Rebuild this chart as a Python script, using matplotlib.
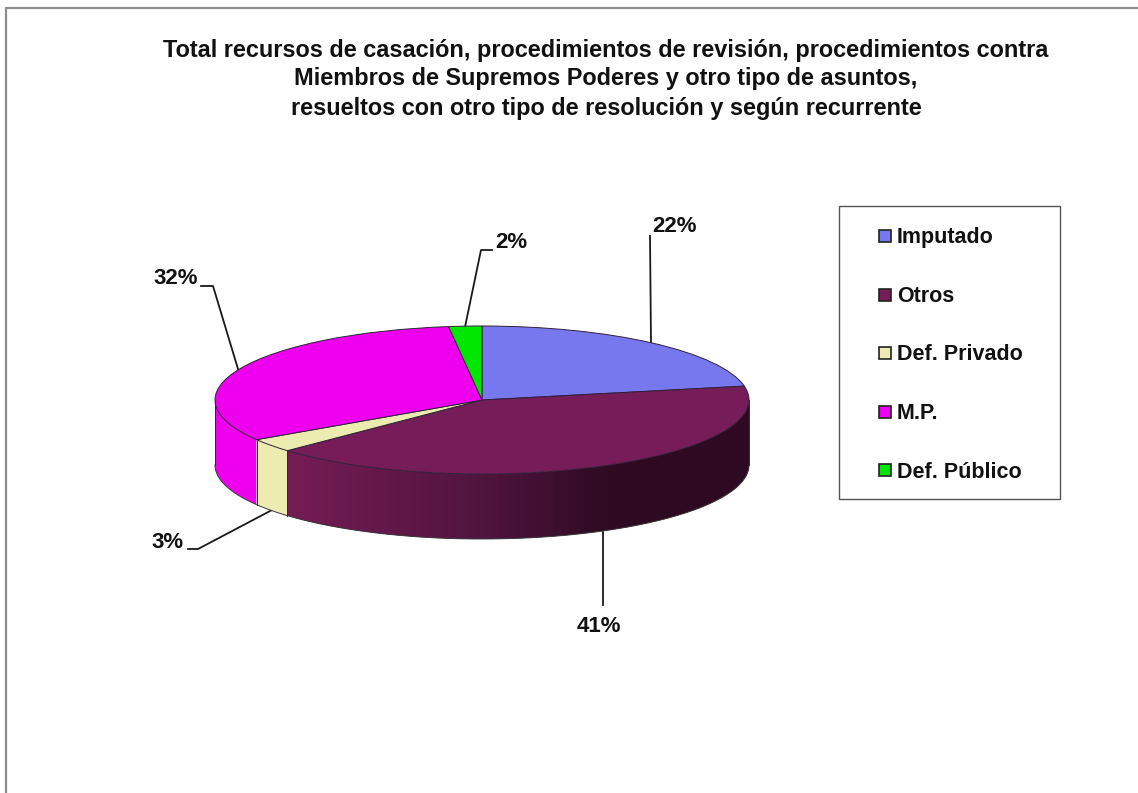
import numpy as np
import matplotlib
matplotlib.use('Agg')
import matplotlib.pyplot as plt
from matplotlib.patches import Rectangle

plt.rcParams['font.family'] = ['Liberation Sans', 'DejaVu Sans']

labels = ['Imputado', 'Otros', 'Def. Privado', 'M.P.', 'Def. Público']
values = [22, 41, 3, 32, 2]
colors = ['#7878ee', '#761c58', '#ecebb0', '#ee00ee', '#00e600']
title_lines = ['Total recursos de casación, procedimientos de revisión, procedimientos contra',
               'Miembros de Supremos Poderes y otro tipo de asuntos,',
               'resueltos con otro tipo de resolución y según recurrente']

W, H = 1138, 793
fig = plt.figure(figsize=(W / 100, H / 100), dpi=100)

# pixel layer for frame, title, legend and leaders
bg = fig.add_axes([0, 0, 1, 1])
bg.set_xlim(0, W)
bg.set_ylim(H, 0)
bg.axis('off')
bg.plot([6, 6, W], [H, 8, 8], color='#8c8c8c', lw=1.6)

for y, line in zip([50, 78.5, 109], title_lines):
    bg.text(606, y, line, ha='center', va='center', fontsize=16.95, fontweight='bold', color='#111111')

# pie axes: top ellipse spans 326-474 px, the side goes down to 539 px
left, right, top, centre_y, bottom = 215, 749, 326, 400, 539
ax = fig.add_axes([left / W, 1 - bottom / H, (right - left) / W, (bottom - top) / H])
depth = (bottom - centre_y) / (centre_y - top) - 1

fractions = np.array(values) / sum(values)
edges = 90 - 360 * np.concatenate([[0], np.cumsum(fractions)])


def side(a0, a1, color):
    t = np.radians(np.linspace(a0, a1, 30))
    xs = np.concatenate([np.cos(t), np.cos(t[::-1])])
    ys = np.concatenate([np.sin(t), np.sin(t[::-1]) - depth])
    ax.fill(xs, ys, facecolor=color, edgecolor='none', lw=0, zorder=1)


def shade(x):
    # Otros side gets darker towards the right
    c0, c1, c2 = np.array([0x74, 0x1c, 0x54]), np.array([0x50, 0x14, 0x3f]), np.array([0x2e, 0x0a, 0x22])
    s = (x + 0.72) / 0.72
    if s < 1:
        c = c0 + (c1 - c0) * max(s, 0)
    else:
        c = c1 + (c2 - c1) * min((s - 1) / 0.65, 1)
    return c / 255


# visible rim: M.P., Def. Privado, then the shaded Otros strips
side(-180, edges[3], colors[3])
side(edges[3], edges[2], colors[2])
strip_x = np.linspace(np.cos(np.radians(edges[2])), 1, 60)
strip_a = -np.degrees(np.arccos(strip_x))
for i in range(len(strip_a) - 1):
    # each strip runs under the next one so no gaps show
    a1 = strip_a[min(i + 2, len(strip_a) - 1)]
    side(strip_a[i], a1, shade((strip_x[i] + strip_x[i + 1]) / 2))

# rim outlines
t = np.radians(np.linspace(180, 360, 200))
ax.plot(np.cos(t), np.sin(t) - depth, color='#3a3a3a', lw=0.7, zorder=2)
for a in [180, edges[3], edges[2], 0]:
    x, y = np.cos(np.radians(a)), np.sin(np.radians(a))
    ax.plot([x, x], [y, y - depth], color='#2a2a2a', lw=0.7, zorder=2)

wedges, _ = ax.pie(values, colors=colors, startangle=90, counterclock=False, radius=1,
                   wedgeprops={'edgecolor': '#30203a', 'linewidth': 0.7}, frame=False)
for w in wedges:
    w.set_zorder(3)
ax.set_aspect('auto')
ax.set_xlim(-1, 1)
ax.set_ylim(-1 - depth, 1)
ax.axis('off')
for art in ax.get_children():
    art.set_clip_on(False)

# data labels with leader lines
label_pos = [(675, 226), (599, 626), (168, 543), (176, 279), (511, 242)]
leaders = [[(651, 343), (650, 236)],
           [(603, 531), (603, 605)],
           [(272, 510), (198, 549), (188, 549)],
           [(238, 369), (213, 286), (201, 286)],
           [(465, 327), (481, 250), (492, 250)]]
for v, pos, pts in zip(values, label_pos, leaders):
    xs, ys = zip(*pts)
    bg.plot(xs, ys, color='#1a1a1a', lw=1.3)
    bg.text(pos[0], pos[1], '%d%%' % v, ha='center', va='center', fontsize=16, fontweight='bold', color='#111111')

# legend
bg.add_patch(Rectangle((839, 206), 221, 293, facecolor='white', edgecolor='#555555', lw=1.0))
for name, col, y in zip(labels, colors, np.linspace(236, 470, len(labels))):
    bg.add_patch(Rectangle((879.5, y - 6), 12, 12, facecolor=col, edgecolor='#222222', lw=1.2))
    bg.text(897, y + 7.5, name, ha='left', va='baseline', fontsize=15.5, fontweight='bold', color='#111111')

fig.savefig('out.png', dpi=100)
